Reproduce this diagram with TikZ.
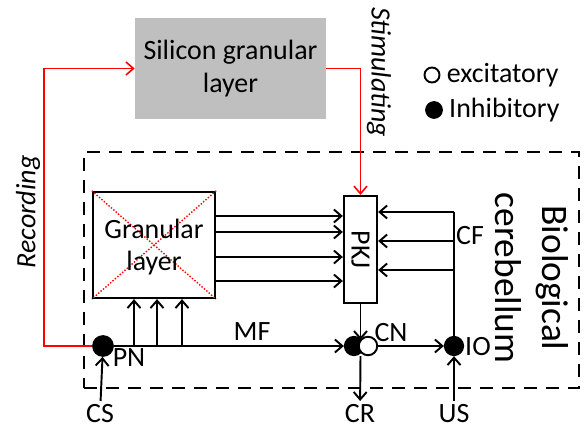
\documentclass[tikz,border=0pt]{standalone}
\usepackage{fontspec}
\setmainfont{Carlito}
\usepackage{tikz}
\usetikzlibrary{arrows.meta,positioning,calc}
\newcommand{\lblsize}{\fontsize{15.9}{18.5}\selectfont}

\begin{document}
\begin{tikzpicture}[x=0.02cm,y=-0.02cm,
  every node/.style={font=\lblsize, inner sep=0pt},
  wire/.style={line width=1.1pt},
  arr/.style={wire,-{Straight Barb[length=1.5mm,width=2.6mm]}},
  redarr/.style={arr,red,line width=0.9pt},
  box/.style={draw,line width=1.3pt},
  dot/.style={circle,draw,fill=black,line width=1pt,minimum size=#1},
  hollow/.style={circle,draw,fill=white,line width=1.1pt,minimum size=#1},
  frame/.style={draw,line width=1.6pt,dash pattern=on 2.6mm off 1.8mm}]
\useasboundingbox (0,0) rectangle (584,428);

% silicon layer and legend
\node[fill=black!25,minimum width=3.82cm,minimum height=2.02cm,align=center] (silicon) at (230.5,68.5) {Silicon granular\\layer};
\node[hollow=0.3cm] (exc) at (432,75) {};
\node[right=0.12cm of exc] (exctext) {excitatory};
\node[dot=0.32cm] (inh) at (434,110) {};
\node[right=0.12cm of inh] (inhtext) {Inhibitory};

% biological cerebellum
\node[frame,minimum width=9.9cm,minimum height=4.72cm] (bio) at (331.5,270) {};
\node[rotate=-90,align=center,font=\fontsize{21.3}{26.7}\selectfont] (biotext) at (532,278) {Biological\\cerebellum};

\node[box,minimum width=2.44cm,minimum height=2.12cm] (gran) at (154,245) {};
\draw[red,densely dotted,line width=0.8pt] (gran.north west) -- (gran.south east) (gran.north east) -- (gran.south west);
\node[align=center] (grantext) at (154,247) {Granular\\layer};

\node[box,minimum width=0.66cm,minimum height=2.14cm] (pkj) at (360.5,249.5) {};
\node[rotate=-90] (pkjtext) at (pkj) {PKJ};

% junctions
\node[dot=0.4cm] (pn) at (103,346) {};
\node[dot=0.37cm] (cni) at (354,346) {};
\node[hollow=0.37cm] (cne) at (368,346) {};
\node[dot=0.37cm] (io) at (454,346) {};

\node (pnlab) at (129,358) {PN};
\node (mflab) at (252,332) {MF};
\node (cnlab) at (391,333) {CN};
\node (iolab) at (478,347) {IO};
\node (cflab) at (470,236) {CF};
\node[inner sep=2pt] (cs) at (100,414) {CS};
\node[inner sep=2pt] (cr) at (360,414) {CR};
\node[inner sep=2pt] (us) at (454,414) {US};

% mossy fibres
\draw[arr] (cs) -- (pn);
\draw[arr] (pn) -- (cni);
\foreach \i/\x in {1/134,2/157,3/182} {
  \coordinate (mf\i) at (\x,346);
  \draw[arr] (mf\i) -- (mf\i |- gran.south);
}
% parallel fibres
\foreach \y in {216,232,257,281}
  \draw[arr] (gran.east |- 0,\y) -- (pkj.west |- 0,\y);

\coordinate (cntop) at (360,340);
\draw[arr] (pkj.south) -- (pkj.south |- cntop);
\draw[arr] (pkj.south |- cni.south) -- (cr);
\draw[arr] (cne) -- (io);
\draw[arr] (us) -- (io);

% climbing fibres
\coordinate (cf) at (454,212);
\draw[wire] (io) -- (cf);
\draw[arr] (cf) -- (pkj.east |- cf);
\foreach \y in {241,270}
  \draw[arr] (io |- 0,\y) -- (pkj.east |- 0,\y);

% recording / stimulating
\coordinate (rec) at (44,346);
\draw[redarr] (pn) -- (rec) |- (silicon);
\draw[redarr] (silicon) -| (pkj);
\node[rotate=90,font=\lblsize\itshape] (reclab) at (28,212) {Recording};
\node[rotate=-90,font=\lblsize\itshape] (stimlab) at (379,72) {Stimulating};
\end{tikzpicture}
\end{document}
